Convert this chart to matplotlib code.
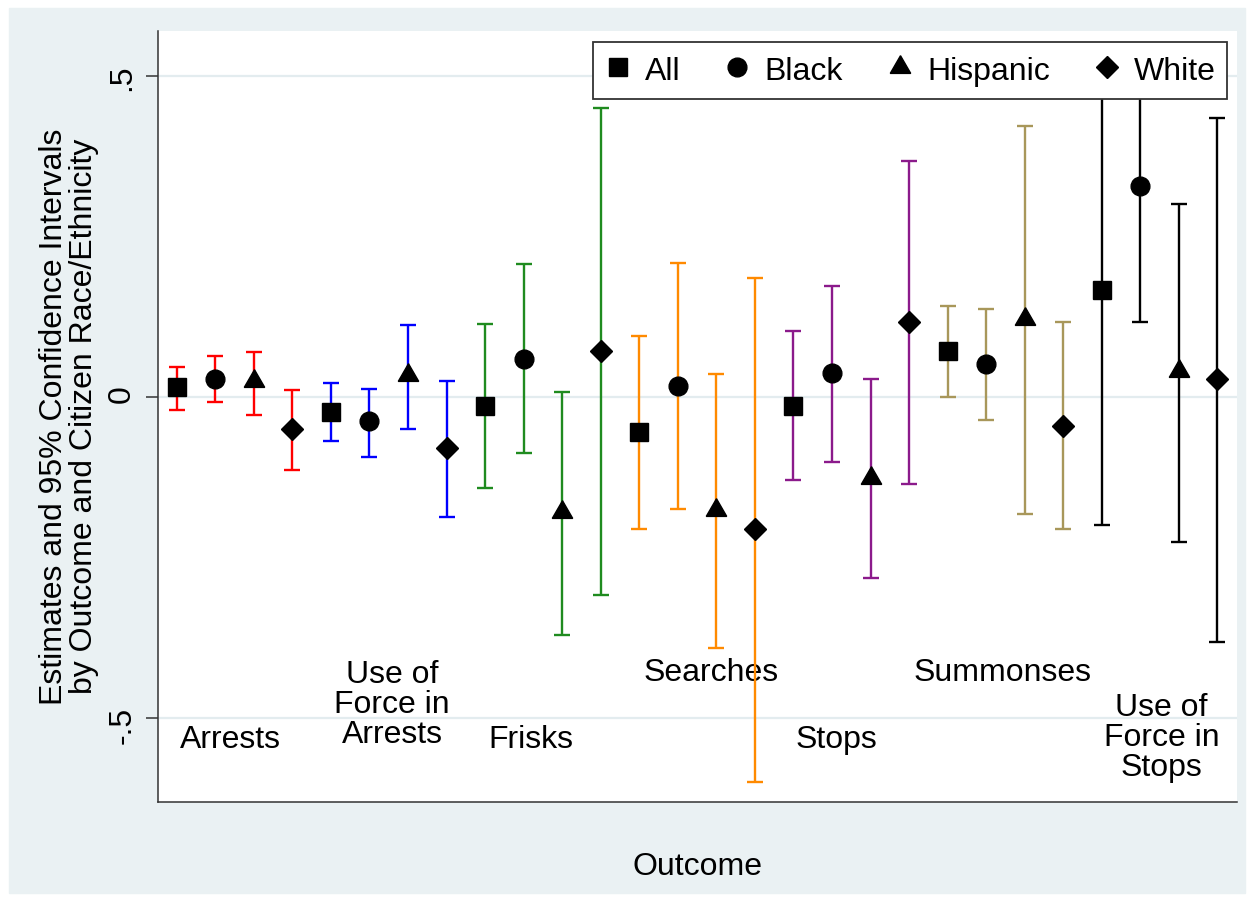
import numpy as np
import matplotlib
matplotlib.use("Agg")
import matplotlib.pyplot as plt
from matplotlib.patches import Rectangle

plt.rcParams['font.family'] = ['Liberation Sans', 'DejaVu Sans']

# outcomes (one colour each) and the four citizen groups
outcomes = ["Arrests", "Use of\nForce in\nArrests", "Frisks", "Searches",
            "Stops", "Summonses", "Use of\nForce in\nStops"]
races = ["All", "Black", "Hispanic", "White"]

# point estimates and 95% CI bounds, one value per outcome
est_all = [0.015, -0.023, -0.015, -0.055, -0.014, 0.071, 0.167]
lo_all = [-0.020, -0.069, -0.142, -0.206, -0.130, 0.000, -0.200]
hi_all = [0.047, 0.021, 0.113, 0.095, 0.102, 0.142, 0.530]

est_black = [0.028, -0.038, 0.059, 0.017, 0.037, 0.051, 0.329]
lo_black = [-0.008, -0.093, -0.087, -0.174, -0.101, -0.036, 0.116]
hi_black = [0.063, 0.012, 0.207, 0.209, 0.173, 0.136, 0.550]

est_hisp = [0.024, 0.034, -0.179, -0.176, -0.126, 0.121, 0.040]
lo_hisp = [-0.029, -0.050, -0.371, -0.391, -0.282, -0.182, -0.226]
hi_hisp = [0.070, 0.112, 0.008, 0.035, 0.028, 0.422, 0.301]

est_white = [-0.050, -0.080, 0.072, -0.206, 0.117, -0.045, 0.027]
lo_white = [-0.114, -0.187, -0.308, -0.600, -0.136, -0.206, -0.382]
hi_white = [0.011, 0.024, 0.450, 0.185, 0.368, 0.116, 0.434]

yticks = [-0.5, 0, 0.5]
ytick_labels = ["-.5", "0", ".5"]

# styling / layout
colors = ["#ff0000", "#0000ff", "#1f8b1f", "#ff8a00", "#8b1a8b", "#a8975a", "#000000"]
markers = ["s", "o", (3, 0, 0), "D"]
msizes = [13, 13.5, 17, 11.5]
label_x = [2.38, 6.59, 10.18, 14.86, 18.12, 22.42, 26.55]
label_y = [-0.534, -0.48, -0.534, -0.43, -0.534, -0.43, -0.531]
fs = 23

est = np.array([est_all, est_black, est_hisp, est_white])
lo = np.array([lo_all, lo_black, lo_hisp, lo_white])
hi = np.array([hi_all, hi_black, hi_hisp, hi_white])
n_out = len(outcomes)
xpos = np.arange(n_out)[None, :] * 4 + np.arange(4)[:, None] + 1  # (race, outcome)

fig = plt.figure(figsize=(12.5, 8.99), dpi=100, facecolor="white")
fig.add_artist(Rectangle((9 / 1250, 1 - 893 / 899), 1236 / 1250, 885 / 899,
                         transform=fig.transFigure, color="#eaf1f3", zorder=-10))
ax = fig.add_axes([0.126, 0.1079, 0.8634, 0.8571])
ax.set_facecolor("white")

for g in range(n_out):
    ax.errorbar(xpos[:, g], est[:, g], yerr=[est[:, g] - lo[:, g], hi[:, g] - est[:, g]],
                fmt="none", ecolor=colors[g], elinewidth=1.7, capsize=6, capthick=1.7, zorder=2)

handles = []
for r in range(4):
    h, = ax.plot(xpos[r], est[r], ls="none", marker=markers[r], ms=msizes[r],
                 color="black", zorder=3, label=races[r])
    handles.append(h)

for g in range(n_out):
    ax.text(label_x[g], label_y[g], outcomes[g], ha="center", va="center",
            fontsize=fs, linespacing=1.0, zorder=1)

ax.set_xlim(0.5, 28.5)
ax.set_ylim(-0.631, 0.569)
ax.set_xticks([])
ax.set_yticks(yticks)
ax.set_yticklabels(ytick_labels)
ax.tick_params(axis="y", length=8.6, width=1.1, pad=6, labelsize=fs, labelrotation=90,
               color="#333333")
ax.yaxis.grid(True, color="#e3ecef", lw=1.6, zorder=0)
ax.set_axisbelow(True)
for s in ["top", "right"]:
    ax.spines[s].set_visible(False)
for s in ["left", "bottom"]:
    ax.spines[s].set_color("#333333")
    ax.spines[s].set_linewidth(1.1)

leg = ax.legend(handles=handles, loc="upper right", bbox_to_anchor=(0.991, 0.9864),
                borderaxespad=0, ncol=4, fontsize=fs, handlelength=0.8, handleheight=1.15,
                handletextpad=0.45, columnspacing=1.38, borderpad=0.36,
                fancybox=False, framealpha=1, edgecolor="#333333")
leg.get_frame().set_linewidth(1.3)
leg.set_zorder(5)

fig.text(69 / 1250, 0.5367,
         "Estimates and 95% Confidence Intervals\nby Outcome and Citizen Race/Ethnicity",
         rotation=90, ha="center", va="center", fontsize=fs, linespacing=1.0)
fig.text(0.5576, 1 - 867 / 899, "Outcome", ha="center", va="center", fontsize=fs)

fig.savefig("out.png", dpi=100, facecolor="white")
